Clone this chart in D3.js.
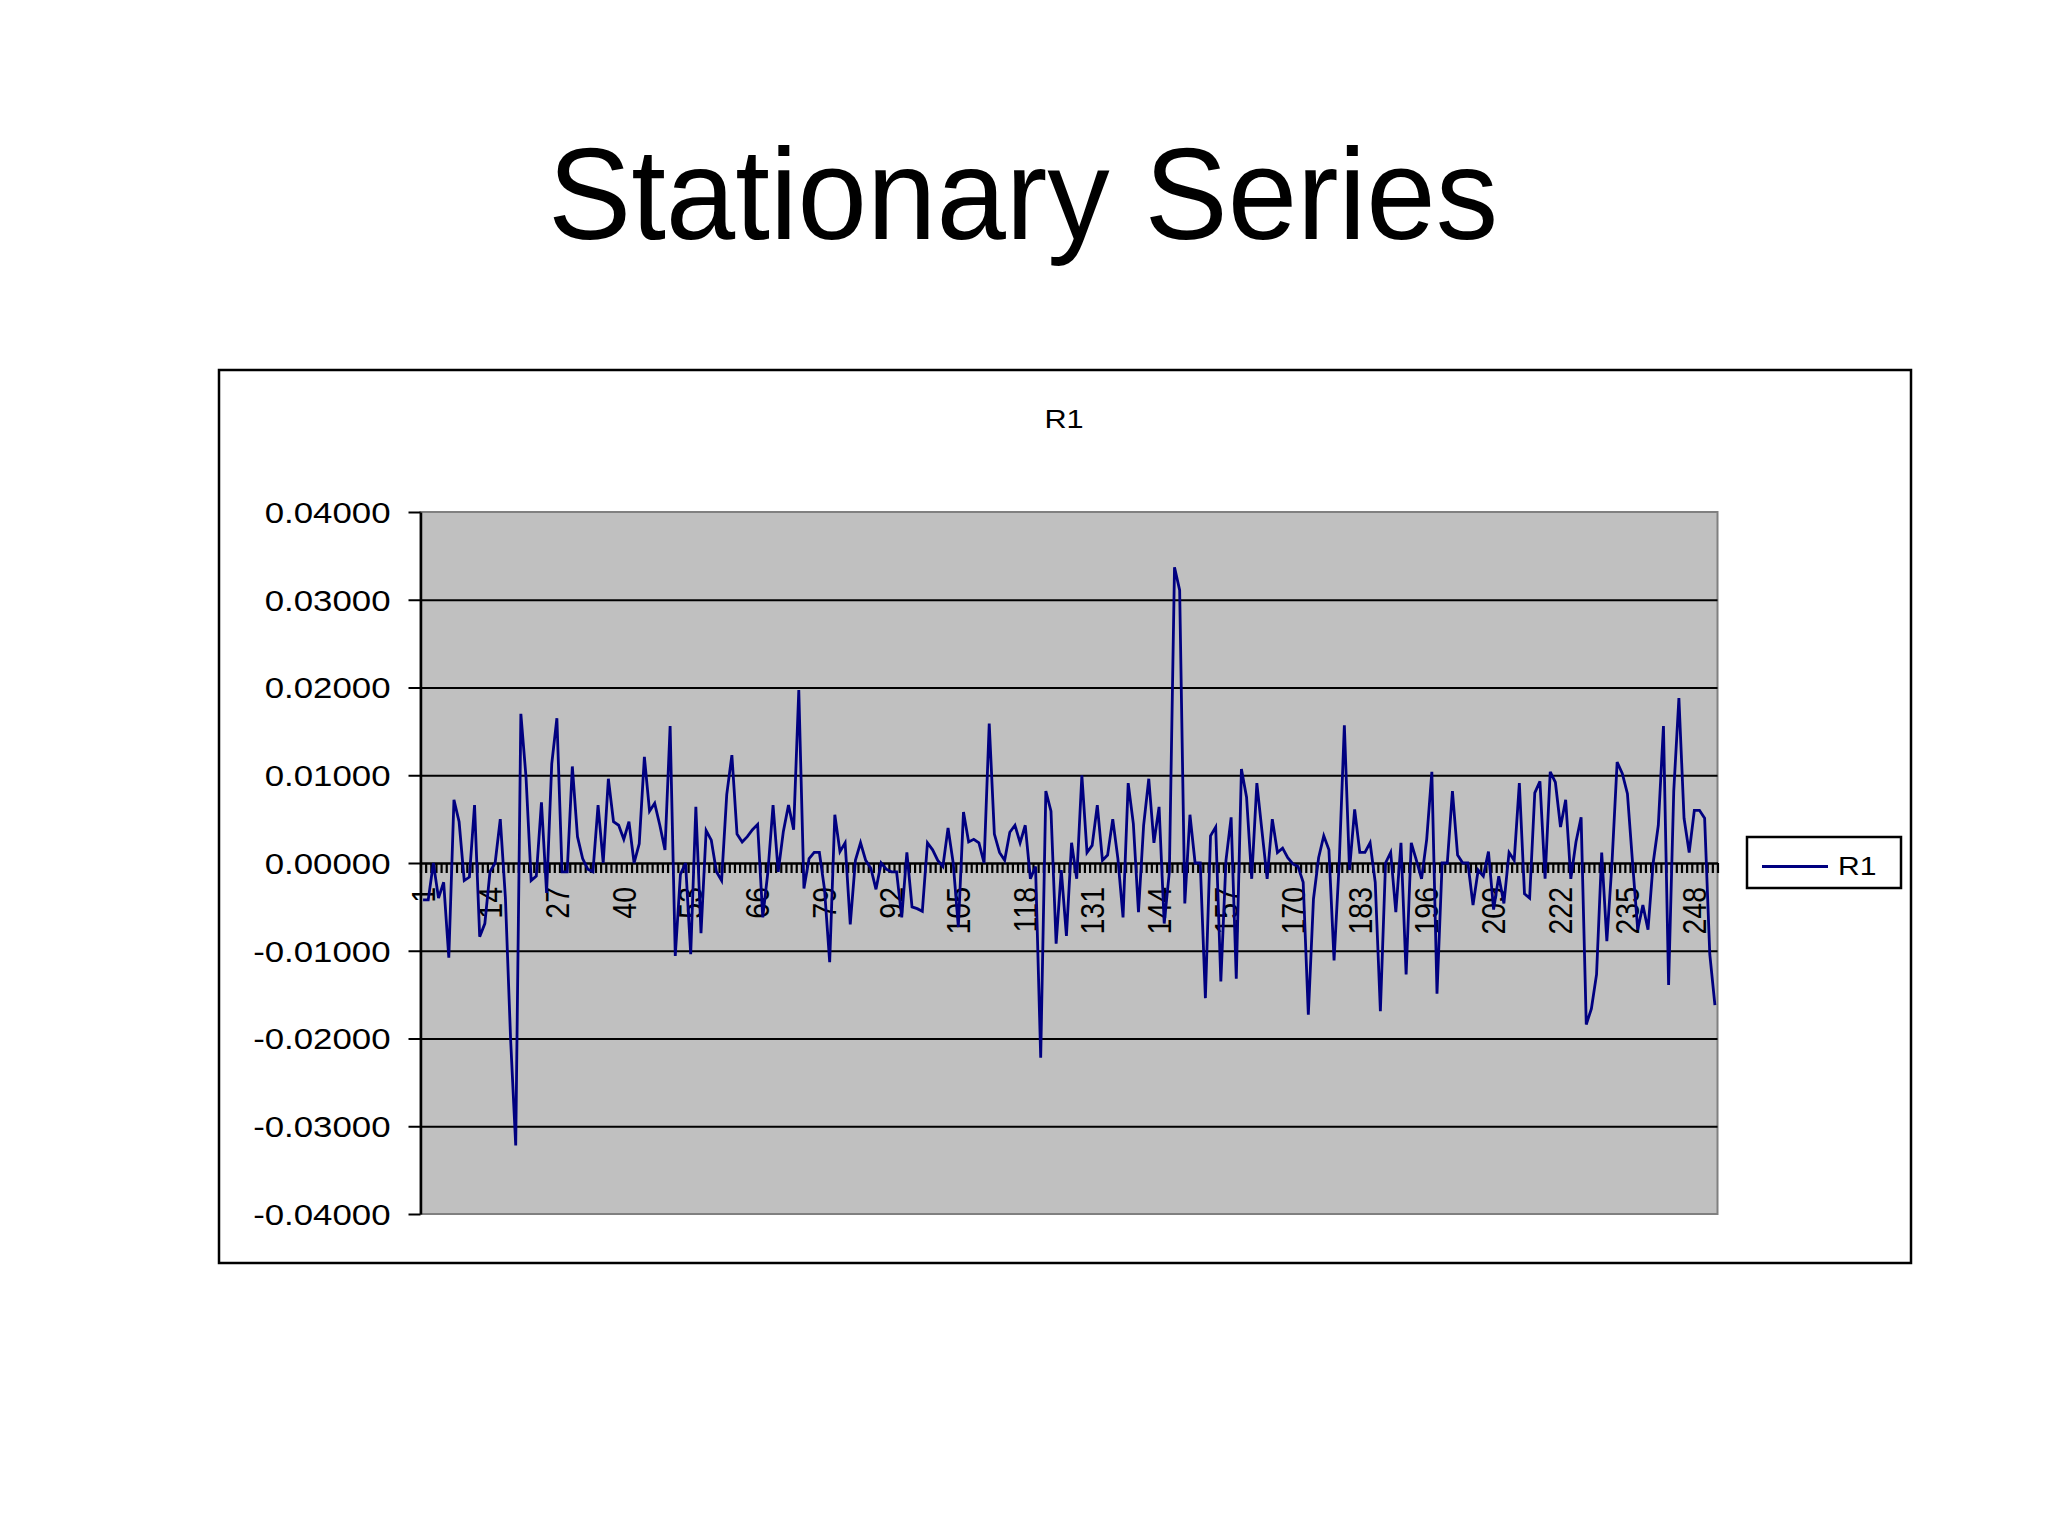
<!DOCTYPE html>
<html>
<head>
<meta charset="utf-8">
<script src="https://cdn.jsdelivr.net/npm/d3@7"></script>
<style>
  body { margin: 0; background: #fff; }
  text { font-family: "Liberation Sans", Arial, sans-serif; fill: #000; }
</style>
</head>
<body>
<div id="chart-area"><svg></svg></div>
<script>
const pageSize = { width: 2048, height: 1536 };
const chartBox = { left: 219, top: 370, right: 1911, bottom: 1263 };
const plot = { left: 420.5, right: 1717.5, top: 512, bottom: 1214 };
const stretch = 1.18;

const chartTitle = "Stationary Series";
const seriesName = "R1";

const categories = d3.range(1, 253);
const xTickLabels = [1, 14, 27, 40, 53, 66, 79, 92, 105, 118, 131, 144, 157, 170, 183, 196, 209, 222, 235, 248];
const yTicks = [0.04, 0.03, 0.02, 0.01, 0, -0.01, -0.02, -0.03, -0.04];

const r1Values = [
  -0.0042, -0.0042, 0.0000, -0.0040, -0.0022, -0.0108, 0.0072, 0.0047, -0.0020, -0.0016,
  0.0066, -0.0084, -0.0069, -0.0010, 0.0000, 0.0050, -0.0040, -0.0200, -0.0322, 0.0170,
  0.0098, -0.0020, -0.0015, 0.0069, -0.0034, 0.0113, 0.0165, -0.0010, -0.0010, 0.0110,
  0.0030, 0.0005, -0.0007, -0.0010, 0.0066, 0.0000, 0.0096, 0.0047, 0.0043, 0.0027,
  0.0047, 0.0000, 0.0022, 0.0121, 0.0059, 0.0068, 0.0043, 0.0015, 0.0156, -0.0106,
  -0.0013, 0.0000, -0.0104, 0.0064, -0.0080, 0.0037, 0.0026, -0.0010, -0.0020, 0.0078,
  0.0123, 0.0033, 0.0024, 0.0030, 0.0038, 0.0044, -0.0062, -0.0010, 0.0066, -0.0010,
  0.0036, 0.0066, 0.0038, 0.0197, -0.0029, 0.0005, 0.0012, 0.0012, -0.0030, -0.0113,
  0.0055, 0.0013, 0.0023, -0.0070, 0.0003, 0.0023, 0.0003, -0.0006, -0.0030, 0.0000,
  -0.0007, -0.0010, -0.0010, -0.0062, 0.0012, -0.0050, -0.0052, -0.0055, 0.0023, 0.0015,
  0.0003, -0.0004, 0.0040, 0.0000, -0.0073, 0.0058, 0.0024, 0.0027, 0.0023, 0.0000,
  0.0159, 0.0033, 0.0012, 0.0003, 0.0035, 0.0043, 0.0023, 0.0043, -0.0018, -0.0004,
  -0.0222, 0.0082, 0.0059, -0.0092, -0.0008, -0.0083, 0.0023, -0.0018, 0.0100, 0.0012,
  0.0020, 0.0066, 0.0003, 0.0009, 0.0050, 0.0005, -0.0062, 0.0091, 0.0045, -0.0056,
  0.0043, 0.0096, 0.0023, 0.0064, -0.0069, -0.0010, 0.0337, 0.0311, -0.0046, 0.0055,
  0.0000, 0.0000, -0.0154, 0.0031, 0.0041, -0.0135, 0.0003, 0.0052, -0.0132, 0.0107,
  0.0075, -0.0018, 0.0091, 0.0036, -0.0018, 0.0050, 0.0012, 0.0017, 0.0006, -0.0001,
  -0.0004, -0.0022, -0.0173, -0.0041, 0.0006, 0.0031, 0.0015, -0.0111, 0.0000, 0.0157,
  -0.0008, 0.0061, 0.0012, 0.0012, 0.0023, -0.0022, -0.0169, 0.0000, 0.0012, -0.0056,
  0.0023, -0.0127, 0.0023, 0.0003, -0.0018, 0.0027, 0.0104, -0.0149, 0.0000, 0.0000,
  0.0082, 0.0009, 0.0000, 0.0000, -0.0048, -0.0008, -0.0015, 0.0013, -0.0053, -0.0015,
  -0.0046, 0.0012, 0.0003, 0.0091, -0.0035, -0.0040, 0.0080, 0.0093, -0.0018, 0.0104,
  0.0092, 0.0041, 0.0072, -0.0018, 0.0024, 0.0052, -0.0184, -0.0166, -0.0127, 0.0012,
  -0.0089, 0.0000, 0.0115, 0.0102, 0.0079, 0.0000, -0.0076, -0.0048, -0.0076, 0.0000,
  0.0043, 0.0156, -0.0139, 0.0082, 0.0188, 0.0051, 0.0012, 0.0060, 0.0060, 0.0051,
  -0.0104, -0.0162
];

const drawChart = () => {
    const svg = d3.select('#chart-area svg')
        .attr('width', pageSize.width)
        .attr('height', pageSize.height);

    svg.append('rect')
        .attr('width', pageSize.width)
        .attr('height', pageSize.height)
        .attr('fill', '#fff');

    // slide title
    svg.append('text')
        .attr('transform', 'translate(1023,239) scale(0.96,1)')
        .attr('text-anchor', 'middle')
        .style('font-size', '130px')
        .text(chartTitle);

    // chart frame
    svg.append('rect')
        .attr('x', chartBox.left)
        .attr('y', chartBox.top)
        .attr('width', chartBox.right - chartBox.left)
        .attr('height', chartBox.bottom - chartBox.top)
        .attr('fill', '#fff')
        .attr('stroke', '#000')
        .attr('stroke-width', 2.5);

    svg.append('text')
        .attr('transform', `translate(1064,428) scale(${stretch},1)`)
        .attr('text-anchor', 'middle')
        .style('font-size', '26px')
        .text(seriesName);

    const x = d3.scaleBand()
        .domain(categories)
        .range([plot.left, plot.right])
        .padding(0);

    const xEdge = d3.scaleLinear()
        .domain([0, categories.length])
        .range([plot.left, plot.right]);

    const y = d3.scaleLinear()
        .domain([-0.04, 0.04])
        .range([plot.bottom, plot.top]);

    // plot area
    svg.append('rect')
        .attr('x', plot.left)
        .attr('y', plot.top)
        .attr('width', plot.right - plot.left)
        .attr('height', plot.bottom - plot.top)
        .attr('fill', '#c0c0c0')
        .attr('stroke', '#808080')
        .attr('stroke-width', 2);

    // gridlines
    svg.append('g')
        .attr('class', 'grid')
        .attr('transform', `translate(${plot.left},0)`)
        .call(d3.axisLeft(y)
            .tickValues(yTicks.filter(t => t != 0 && Math.abs(t) < 0.04))
            .tickSize(-(plot.right - plot.left))
            .tickFormat(''))
        .call(g => g.select('.domain').remove())
        .call(g => g.selectAll('line').attr('stroke', '#000').attr('stroke-width', 2));

    // y axis
    svg.append('g')
        .attr('class', 'y-axis')
        .attr('transform', `translate(${plot.left},0)`)
        .call(d3.axisLeft(y)
            .tickValues(yTicks)
            .tickSize(12)
            .tickSizeOuter(0)
            .tickFormat(d => d.toFixed(5)))
        .call(g => g.select('.domain').attr('stroke', '#000').attr('stroke-width', 2.5))
        .call(g => g.selectAll('line').attr('stroke', '#000').attr('stroke-width', 2))
        .call(g => g.selectAll('text')
            .attr('x', 0)
            .attr('dy', '0.35em')
            .attr('transform', `translate(-30,0) scale(${stretch},1)`)
            .attr('text-anchor', 'end')
            .attr('fill', '#000')
            .style('font-size', '29.5px')
            .style('font-family', '"Liberation Sans", Arial, sans-serif'));

    // category labels
    svg.append('g')
        .attr('class', 'x-labels')
        .attr('transform', `translate(0,${y(0)})`)
        .call(d3.axisBottom(x)
            .tickValues(xTickLabels)
            .tickSize(0))
        .call(g => g.select('.domain').remove())
        .call(g => g.selectAll('text')
            .attr('x', 0)
            .attr('y', 0)
            .attr('dy', '0.35em')
            .attr('transform', `translate(0,24) scale(${stretch},1) rotate(-90)`)
            .attr('text-anchor', 'end')
            .attr('fill', '#000')
            .style('font-size', '28.5px')
            .style('font-family', '"Liberation Sans", Arial, sans-serif'));

    // category axis with tick marks between categories
    svg.append('g')
        .attr('class', 'x-axis')
        .attr('transform', `translate(0,${y(0)})`)
        .call(d3.axisBottom(xEdge)
            .tickValues(d3.range(0, categories.length + 1))
            .tickSize(10)
            .tickSizeOuter(0)
            .tickFormat(''))
        .call(g => g.select('.domain').attr('stroke', '#000').attr('stroke-width', 2.5))
        .call(g => g.selectAll('line').attr('stroke', '#000').attr('stroke-width', 2.2));

    // series line
    const line = d3.line()
        .x((d, i) => x(categories[i]) + x.bandwidth() / 2)
        .y(d => y(d));

    svg.append('path')
        .datum(r1Values)
        .attr('class', 'series')
        .attr('d', line)
        .attr('fill', 'none')
        .attr('stroke', '#000080')
        .attr('stroke-width', 2.8)
        .attr('stroke-linejoin', 'miter')
        .attr('stroke-miterlimit', 4);

    // legend
    const legend = svg.append('g').attr('class', 'legend');
    legend.append('rect')
        .attr('x', 1747)
        .attr('y', 837)
        .attr('width', 154)
        .attr('height', 51)
        .attr('fill', '#fff')
        .attr('stroke', '#000')
        .attr('stroke-width', 2.5);
    legend.append('line')
        .attr('x1', 1762)
        .attr('x2', 1828)
        .attr('y1', 866.5)
        .attr('y2', 866.5)
        .attr('stroke', '#000080')
        .attr('stroke-width', 2.8);
    legend.append('text')
        .attr('transform', `translate(1838,875) scale(${stretch},1)`)
        .style('font-size', '25.5px')
        .text(seriesName);
}

window.onload = drawChart;
</script>
</body>
</html>
